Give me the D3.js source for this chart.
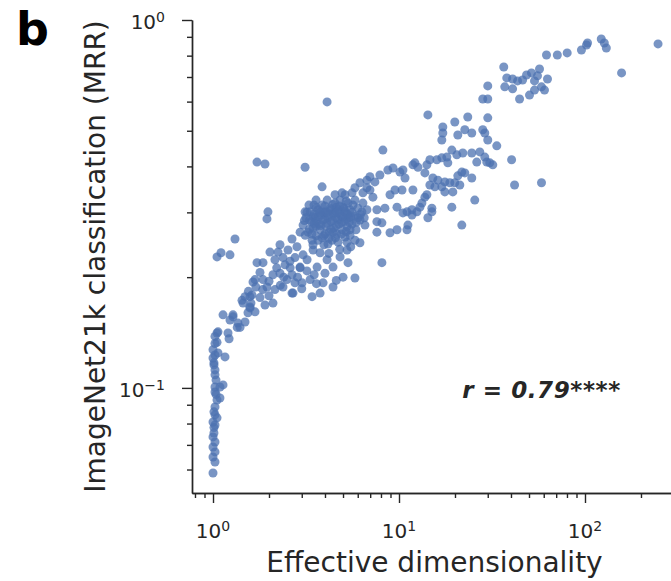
<!DOCTYPE html>
<html>
<head>
<meta charset="utf-8">
<script src="https://cdnjs.cloudflare.com/ajax/libs/d3/7.8.5/d3.min.js"></script>
<style>
body { margin: 0; background: #fff; }
text { font-family: "DejaVu Sans", sans-serif; fill: #262626; }
.axis path, .axis line { stroke: #262626; stroke-width: 1.4; }
</style>
</head>
<body>
<div id="chart-area"></div>
<script>
// [effective dimensionality, MRR]
var columnPts = [[1.00,0.0587],[1.025,0.0629],[1.00,0.0649],[1.025,0.0670],[1.00,0.0691],[1.025,0.0713],[1.00,0.0736],[1.012,0.0754],[1.012,0.078],[1.025,0.0793],
	[1.00,0.0808],[1.051,0.0829],[1.025,0.0845],[1.012,0.0861],[1.025,0.0888],[1.051,0.0927],[1.09,0.0939],[1.038,0.096],[1.025,0.0975],[1.025,0.1006],
	[1.09,0.1006],[1.132,0.1019],[1.038,0.105],[1.025,0.1085],[1.025,0.1119],[1.012,0.1155],[1.012,0.117],[1.00,0.1206],[1.16,0.1214],[1.025,0.1229],
	[1.064,0.1245],[1.00,0.127],[1.025,0.132],[1.051,0.133],[1.025,0.138],[1.051,0.141],[1.064,0.142],[1.204,0.141],[1.22,0.136],[1.132,0.158],
	[1.281,0.158],[1.234,0.153],[1.362,0.150],[1.35,0.146],[1.486,0.151],[1.542,0.160],[1.581,0.165],[1.397,0.146],[1.281,0.156]];

var outlierPts = [[1.051,0.227],[1.104,0.233],[1.234,0.230],[1.313,0.254],[1.724,0.411],[1.903,0.406],[1.974,0.301],[1.950,0.288],[3.126,0.398],[4.105,0.599],[3.859,0.352]];

var bandPts = [[1.432,0.173],[1.581,0.177],[1.486,0.177],[1.620,0.179],[1.450,0.170],[1.581,0.166],[1.903,0.168],[2.101,0.170],[1.950,0.188],[2.153,0.185],
	[2.379,0.188],[2.759,0.193],[3.011,0.193],[2.659,0.181],[1.682,0.197],[1.857,0.197],[2.101,0.203],[2.292,0.205],[2.659,0.203],[1.724,0.219],
	[1.857,0.219],[2.153,0.223],[2.379,0.226],[2.759,0.226],[2.024,0.234],[2.236,0.234],[2.531,0.237],[2.828,0.242],[2.292,0.245],[2.659,0.254],
	[1.641,0.194],[2.500,0.197],[2.692,0.181],[3.409,0.177],[1.789,0.206],[2.439,0.216],[2.938,0.212],[3.05,0.230],[2.594,0.221],[1.682,0.161],[1.789,0.176],
	[5.452,0.269],[5.797,0.252],[5.255,0.237],[4.821,0.227],[5.320,0.219],[5.797,0.199],[5.002,0.200],[4.418,0.213],[4.105,0.223],[3.765,0.233],
	[3.452,0.237],[3.204,0.223],[2.938,0.213],[3.326,0.197],[3.907,0.193],[4.418,0.188],[3.765,0.181],[3.627,0.213],[6.167,0.248],[5.255,0.249],
	[8.092,0.219],[3.126,0.301],[3.452,0.292],
	[1.55,0.183],[1.70,0.188],[1.85,0.185],[2.00,0.195],[2.20,0.212],[2.40,0.200],[2.60,0.212],[2.85,0.200],[3.20,0.208],[3.50,0.203],
	[1.60,0.170],[2.00,0.178],[2.30,0.190],[3.00,0.186],[3.60,0.192],[4.00,0.205],[4.60,0.196],[4.20,0.232],[4.80,0.238],[5.50,0.242]];

var clusterPts = [[3.05,0.277],[3.16,0.290],[3.24,0.265],[3.33,0.301],[3.37,0.283],[3.45,0.272],[3.49,0.314],[3.54,0.290],[3.58,0.259],[3.67,0.305],
	[3.72,0.279],[3.77,0.269],[3.81,0.295],[3.86,0.314],[3.91,0.286],[3.95,0.259],[4.01,0.301],[4.05,0.275],[4.11,0.324],[4.15,0.290],
	[4.21,0.265],[4.26,0.308],[4.31,0.283],[4.36,0.252],[4.42,0.297],[4.47,0.272],[4.53,0.318],[4.58,0.290],[4.64,0.262],[4.70,0.305],
	[4.76,0.279],[4.82,0.324],[4.88,0.293],[4.94,0.269],[5.00,0.310],[5.06,0.283],[5.13,0.257],[5.19,0.299],[5.26,0.274],[5.32,0.318],
	[5.38,0.290],[5.45,0.305],[5.59,0.279],[5.66,0.314],[5.80,0.293],[5.87,0.269],[6.02,0.308],[6.17,0.286],[6.32,0.301],[3.67,0.252],
	[3.41,0.252],[3.13,0.260],[4.15,0.246],[4.70,0.249],[2.94,0.265],[3.58,0.324],[3.28,0.314],[4.53,0.335],[5.13,0.335],[5.80,0.324],
	[5.59,0.339],[4.94,0.339],[3.58,0.275],[4.42,0.265],[5.06,0.308],[3.86,0.256],[5.45,0.260],[6.02,0.290],[6.56,0.277],
	[3.20,0.300],[3.30,0.286],[3.50,0.297],[3.60,0.283],[3.70,0.292],[3.90,0.300],[4.00,0.288],[4.10,0.280],[4.20,0.296],[4.30,0.305],
	[4.40,0.285],[4.50,0.300],[4.60,0.310],[4.70,0.287],[4.80,0.298],[4.90,0.282],[5.00,0.292],[5.10,0.302],[5.20,0.288],[5.30,0.296],
	[5.40,0.282],[5.50,0.292],[3.40,0.262],[3.80,0.276],[4.00,0.262],[4.30,0.270],[4.60,0.276],[4.90,0.262],[5.20,0.266],[3.60,0.309],
	[4.00,0.312],[4.40,0.315],[4.80,0.312],[5.20,0.322],[3.30,0.270],[3.50,0.280],[4.20,0.255],[4.55,0.256],[3.95,0.245],[3.45,0.245],
	[5.60,0.300],[5.90,0.282],[6.20,0.296],[6.50,0.290],[3.10,0.285],[4.10,0.300],[4.65,0.300],[3.75,0.300]];

var midPts = [[5.797,0.350],[6.167,0.361],[6.722,0.367],[6.977,0.375],[7.421,0.363],[7.895,0.379],[8.716,0.391],[9.283,0.396],[10.12,0.386],[6.977,0.345],
	[6.398,0.339],[6.722,0.350],[10.38,0.345],[11.88,0.345],[12.18,0.409],[8.193,0.443],[6.722,0.305],[7.606,0.305],[8.400,0.308],[9.754,0.310],
	[11.04,0.301],[11.74,0.305],[12.48,0.301],[10.50,0.299],[7.606,0.283],[8.092,0.281],[7.606,0.265],[8.948,0.264],[9.754,0.269],[11.17,0.277],
	[11.04,0.269],[6.398,0.318],[7.240,0.330],[8.948,0.335],[9.515,0.345],[11.74,0.295],[14.30,0.290],[15.02,0.301],[21.76,0.277]];

var upperPts = [[14.30,0.552],[28.21,0.610],[30.01,0.610],[44.49,0.610],[23.43,0.545],[30.01,0.542],[19.95,0.528],[17.20,0.512],[17.20,0.493],[20.71,0.487],
	[22.58,0.503],[24.62,0.493],[28.21,0.503],[28.92,0.493],[16.99,0.472],[30.01,0.472],[33.55,0.455],[19.23,0.443],[18.08,0.424],[20.46,0.430],
	[22.03,0.435],[24.62,0.435],[27.19,0.438],[28.92,0.424],[14.66,0.417],[15.98,0.417],[16.99,0.422],[40.31,0.417],[11.88,0.404],[12.64,0.398],
	[10.50,0.391],[10.77,0.372],[13.78,0.384],[26.19,0.411],[29.64,0.411],[31.93,0.404],[21.76,0.386],[20.71,0.377],[24.62,0.372],[15.21,0.372],
	[16.18,0.367],[17.64,0.363],[18.76,0.361],[19.95,0.361],[14.66,0.356],[15.59,0.352],[16.99,0.352],[21.23,0.356],[41.82,0.356],[58.36,0.361],
	[19.47,0.341],[13.78,0.330],[13.28,0.318],[15.02,0.308],[25.55,0.324],[19.23,0.310],[22.58,0.384],[30.77,0.409],[12.95,0.310],[17.64,0.341],
	[14.12,0.335],[18.30,0.409],[14.12,0.404]];

var topPts = [[247,0.861],[122.3,0.888],[127.0,0.866],[130.2,0.839],[103.2,0.866],[101.9,0.855],[95.7,0.829],[80.2,0.814],[71.0,0.803],[62.08,0.803],
	[157.3,0.718],[36.58,0.745],[56.94,0.736],[51.55,0.718],[48.50,0.709],[55.55,0.705],[62.85,0.691],[37.97,0.696],[40.81,0.691],[43.40,0.683],
	[46.17,0.687],[53.52,0.683],[37.04,0.658],[40.81,0.650],[53.52,0.645],[58.36,0.658],[60.57,0.645],[50.30,0.625],[30.01,0.662]];

var xMajor = [1, 10, 100];
var xMinor = [0.8, 0.9, 2, 3, 4, 5, 6, 7, 8, 9, 20, 30, 40, 50, 60, 70, 80, 90, 200];
var yMajor = [0.1, 1];
var yMinor = [0.06, 0.07, 0.08, 0.09, 0.2, 0.3, 0.4, 0.5, 0.6, 0.7, 0.8, 0.9];

var panelLabel = "b";
var xTitle = "Effective dimensionality";
var yTitle = "ImageNet21k classification (MRR)";
var corrText = "r = 0.79";
var corrStars = "****";

var margin = {top: 20, right: 0, bottom: 88, left: 192};
var width = 671 - margin.left - margin.right;
var height = 581 - margin.top - margin.bottom;

var svg = d3.select("#chart-area")
	.append("svg")
	.attr("width", 671)
	.attr("height", 581);

var g = svg.append("g")
	.attr("transform", "translate(" + margin.left + ", " + margin.top + ")");

var x = d3.scaleLog().domain([0.771, 290]).range([0, width]);
var y = d3.scaleLog().domain([0.0518, 1]).range([height, 0]);

var data = columnPts.concat(outlierPts, bandPts, clusterPts, midPts, upperPts, topPts);

// superscript labels like 10^-1
function powLabel(sel, d) {
	var e = Math.round(Math.log10(d));
	sel.append("tspan").text("10");
	sel.append("tspan")
		.attr("dy", "-0.5em")
		.attr("font-size", "14px")
		.text(e < 0 ? "\u2212" + (-e) : e);
}

// minor ticks
g.append("g").attr("class", "axis")
	.attr("transform", "translate(0, " + height + ")")
	.call(d3.axisBottom(x).tickValues(xMinor).tickSize(5).tickSizeOuter(0).tickFormat(""));
g.append("g").attr("class", "axis")
	.call(d3.axisLeft(y).tickValues(yMinor).tickSize(5).tickSizeOuter(0).tickFormat(""));

// major ticks
var xAxisGroup = g.append("g").attr("class", "axis")
	.attr("transform", "translate(0, " + height + ")")
	.call(d3.axisBottom(x).tickValues(xMajor).tickSize(10).tickSizeOuter(0).tickFormat(""));
var yAxisGroup = g.append("g").attr("class", "axis")
	.call(d3.axisLeft(y).tickValues(yMajor).tickSize(10).tickSizeOuter(0).tickFormat(""));

xMajor.forEach(function(d) {
	var t = g.append("text")
		.attr("x", x(d))
		.attr("y", height + 45)
		.attr("font-size", "20px")
		.attr("text-anchor", "middle");
	powLabel(t, d);
});

yMajor.forEach(function(d) {
	var t = g.append("text")
		.attr("x", -27)
		.attr("y", y(d) + 9)
		.attr("font-size", "20px")
		.attr("text-anchor", "end");
	powLabel(t, d);
});

g.selectAll("circle").data(data)
	.enter().append("circle")
	.attr("cx", function(d) { return x(d[0]); })
	.attr("cy", function(d) { return y(d[1]); })
	.attr("r", 4.5)
	.attr("fill", "#4c72b0")
	.attr("fill-opacity", 0.75);

g.append("text")
	.attr("x", width / 2 + 3)
	.attr("y", height + 79)
	.attr("font-size", "28px")
	.attr("text-anchor", "middle")
	.text(xTitle);

g.append("text")
	.attr("x", -(height / 2))
	.attr("y", -87)
	.attr("font-size", "28px")
	.attr("text-anchor", "middle")
	.attr("transform", "rotate(-90)")
	.text(yTitle);

g.append("text")
	.attr("x", width * 0.564)
	.attr("y", height * 0.8)
	.attr("font-size", "23px")
	.attr("font-weight", "bold")
	.attr("font-style", "italic")
	.attr("letter-spacing", "0.6px")
	.text(corrText + corrStars);

svg.append("text")
	.attr("x", 16)
	.attr("y", 45)
	.attr("font-family", "'Liberation Sans', Arial, sans-serif")
	.attr("font-size", "46px")
	.attr("font-weight", "bold")
	.style("fill", "#000")
	.text(panelLabel);
</script>
</body>
</html>
